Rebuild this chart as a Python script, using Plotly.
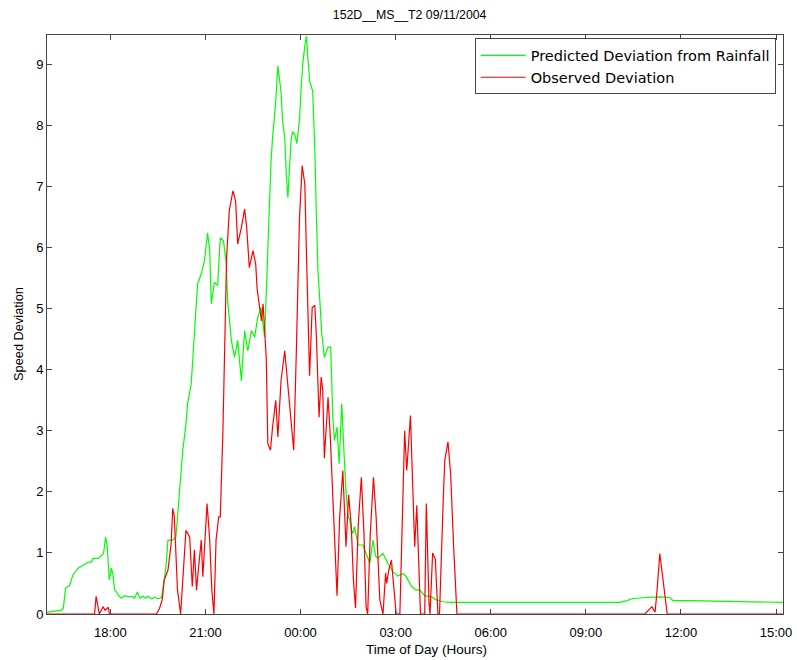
import plotly.graph_objects as go

# ---- data (clock time, deviation) ----
green_times = [
    "16:00", "16:14", "16:27", "16:31", "16:35", "16:43", "16:49", "16:59", "17:08", "17:18",
    "17:24", "17:27", "17:37", "17:43", "17:47", "17:51", "17:54", "17:58", "18:02", "18:05",
    "18:08", "18:11", "18:15", "18:21", "18:27", "18:34", "18:40", "18:46", "18:51", "18:56",
    "19:02", "19:07", "19:11", "19:18", "19:24", "19:30", "19:37", "19:40", "19:45", "19:49",
    "19:58", "20:04", "20:11", "20:17", "20:23", "20:26", "20:33", "20:39", "20:42", "20:45",
    "20:52", "20:58", "21:04", "21:08", "21:11", "21:17", "21:23", "21:28", "21:34", "21:39",
    "21:42", "21:49", "21:55", "22:01", "22:08", "22:14", "22:20", "22:27", "22:33", "22:39",
    "22:45", "22:52", "22:58", "23:01", "23:04", "23:07", "23:13", "23:17", "23:20", "23:23",
    "23:26", "23:30", "23:33", "23:36", "23:39", "23:42", "23:45", "23:49", "23:53", "23:58",
    "00:01", "00:04", "00:08", "00:11", "00:14", "00:17", "00:23", "00:27", "00:30", "00:33",
    "00:36", "00:40", "00:45", "00:52", "00:57", "01:01", "01:04", "01:09", "01:13", "01:18",
    "01:22", "01:26", "01:30", "01:33", "01:36", "01:39", "01:42", "01:46", "01:49", "01:58",
    "02:04", "02:11", "02:17", "02:22", "02:26", "02:36", "02:45", "02:55", "03:04", "03:14",
    "03:20", "03:30", "03:39", "03:45", "03:55", "04:08", "04:17", "04:30", "04:42", "06:17",
    "07:52", "09:26", "10:04", "10:18", "10:27", "10:52", "11:20", "11:39", "11:45", "12:17",
    "13:14", "14:30", "15:13",
]
green_values = [
    0.03, 0.04, 0.06, 0.10, 0.42, 0.47, 0.64, 0.75, 0.80, 0.85,
    0.85, 0.91, 0.91, 0.96, 0.99, 1.26, 1.10, 0.56, 0.75, 0.64,
    0.39, 0.37, 0.31, 0.26, 0.30, 0.28, 0.29, 0.26, 0.36, 0.26,
    0.29, 0.26, 0.29, 0.25, 0.27, 0.25, 0.27, 0.45, 0.75, 1.21,
    1.21, 1.26, 2.03, 2.68, 3.10, 3.44, 3.77, 4.59, 5.02, 5.40,
    5.57, 5.78, 6.24, 5.95, 5.08, 5.43, 5.38, 6.16, 6.11, 5.78,
    5.13, 4.48, 4.20, 4.48, 3.82, 4.64, 4.31, 4.64, 4.53, 4.86,
    5.02, 4.53, 5.95, 6.80, 7.40, 7.80, 8.40, 8.97, 8.75, 8.55,
    8.07, 7.80, 7.20, 6.82, 7.30, 7.75, 7.90, 7.85, 7.70, 8.10,
    8.60, 9.00, 9.30, 9.46, 9.10, 8.73, 8.56, 7.60, 6.50, 5.60,
    5.20, 4.60, 4.20, 4.37, 4.37, 3.22, 2.84, 3.06, 2.46, 3.44,
    2.68, 2.00, 1.59, 1.55, 1.37, 1.32, 1.43, 1.26, 1.13, 1.13,
    0.99, 0.83, 1.21, 0.95, 0.91, 0.99, 0.83, 0.69, 0.62, 0.66,
    0.61, 0.45, 0.39, 0.40, 0.30, 0.28, 0.23, 0.20, 0.19, 0.19,
    0.19, 0.19, 0.19, 0.22, 0.25, 0.27, 0.28, 0.27, 0.22, 0.22,
    0.21, 0.20, 0.19,
]

red_times = [
    "16:00", "17:30", "17:33", "17:39", "17:42", "17:46", "17:50", "17:56", "17:58", "19:27",
    "19:33", "19:38", "19:42", "19:49", "19:55", "19:58", "20:01", "20:04", "20:07", "20:13",
    "20:17", "20:23", "20:30", "20:35", "20:39", "20:43", "20:47", "20:52", "20:55", "20:59",
    "21:03", "21:08", "21:12", "21:16", "21:20", "21:25", "21:28", "21:33", "21:36", "21:40",
    "21:45", "21:52", "21:57", "22:01", "22:08", "22:14", "22:18", "22:23", "22:30", "22:35",
    "22:38", "22:42", "22:46", "22:49", "22:55", "22:58", "23:03", "23:07", "23:13", "23:17",
    "23:23", "23:30", "23:36", "23:42", "23:47", "23:52", "23:58", "00:03", "00:08", "00:11",
    "00:14", "00:17", "00:22", "00:27", "00:30", "00:35", "00:39", "00:42", "00:45", "00:52",
    "00:56", "01:01", "01:06", "01:09", "01:14", "01:20", "01:26", "01:31", "01:36", "01:40",
    "01:44", "01:49", "01:55", "02:00", "02:04", "02:07", "02:12", "02:18", "02:23", "02:30",
    "02:36", "02:41", "02:43", "02:47", "02:52", "02:56", "03:01", "03:08", "03:13", "03:17",
    "03:21", "03:28", "03:33", "03:36", "03:40", "03:44", "03:47", "03:55", "03:58", "04:03",
    "04:05", "04:10", "04:15", "04:20", "04:23", "04:30", "04:33", "04:39", "04:44", "04:50",
    "04:56", "10:52", "10:57", "11:05", "11:11", "11:14", "11:20", "11:26", "11:34", "15:13",
]
red_values = [
    0.00, 0.00, 0.29, 0.00, 0.05, 0.12, 0.06, 0.11, 0.00, 0.00,
    0.09, 0.23, 0.56, 0.72, 1.15, 1.73, 1.59, 0.94, 0.39, 0.00,
    0.56, 1.37, 1.26, 0.45, 1.05, 0.39, 0.77, 1.21, 0.61, 1.21,
    1.81, 1.21, 0.39, 0.00, 1.21, 1.59, 1.59, 3.00, 4.31, 5.84,
    6.60, 6.93, 6.76, 6.06, 6.33, 6.63, 6.33, 5.67, 5.95, 5.73,
    5.30, 5.08, 4.80, 5.08, 4.20, 2.79, 2.68, 3.06, 3.50, 2.90,
    3.82, 4.31, 3.77, 3.22, 2.68, 4.31, 6.49, 7.34, 7.04, 5.95,
    4.86, 3.90, 5.02, 5.05, 4.53, 3.22, 3.88, 3.66, 2.55, 3.55,
    2.95, 2.00, 1.05, 0.30, 1.59, 2.35, 1.10, 1.95, 1.43, 0.56,
    0.10, 1.43, 2.24, 1.32, 0.12, 0.00, 1.32, 2.24, 1.59, 0.23,
    0.00, 0.67, 0.50, 0.72, 0.88, 0.50, 0.00, 0.00, 1.86, 3.00,
    2.35, 3.25, 1.90, 1.10, 1.78, 0.77, 0.00, 0.00, 1.81, 0.20,
    0.00, 1.00, 0.90, 0.00, 0.00, 1.86, 2.52, 2.82, 2.30, 1.05,
    0.00, 0.00, 0.05, 0.12, 0.03, 0.30, 0.99, 0.60, 0.00, 0.00,
]

tick_hours = [18, 21, 24, 27, 30, 33, 36, 39]
tick_labels = ["18:00", "21:00", "00:00", "03:00", "06:00", "09:00", "12:00", "15:00"]
y_ticks = [0, 1, 2, 3, 4, 5, 6, 7, 8, 9]


def to_hours(t):
    hh, mm = t.split(":")
    h = int(hh) + int(mm) / 60.0
    if h < 16:
        h += 24
    return h


gx = [to_hours(t) for t in green_times]
rx = [to_hours(t) for t in red_times]

FONT = "Liberation Sans, Arial, Helvetica, sans-serif"
AXC = "#444444"

fig = go.Figure()
fig.add_trace(go.Scatter(
    x=gx, y=green_values, mode="lines", name="Predicted Deviation from Rainfall",
    line=dict(color="rgb(0,255,0)", width=1.2),
))
fig.add_trace(go.Scatter(
    x=rx, y=red_values, mode="lines", name="Observed Deviation",
    line=dict(color="rgb(255,0,0)", width=1.2),
))

fig.update_layout(
    width=797, height=660,
    margin=dict(l=47, r=14, t=35, b=46, autoexpand=False),
    paper_bgcolor="white", plot_bgcolor="white",
    font=dict(family=FONT, size=13, color="black"),
    title=dict(text="152D__MS__T2 09/11/2004", x=0.514, xanchor="center",
               y=1 - 15 / 660, yanchor="middle", yref="container",
               font=dict(size=12.3, color="black")),
    showlegend=True,
    legend=dict(x=0.99, xanchor="right", y=0.994, yanchor="top",
                bgcolor="white", bordercolor=AXC, borderwidth=1,
                itemwidth=45,
                font=dict(family="DejaVu Sans, Liberation Sans, sans-serif",
                          size=14.5, color="black"), tracegroupgap=0),
    xaxis=dict(range=[16.0, 39.22], tickvals=tick_hours, ticktext=tick_labels,
               showline=True, linecolor=AXC, linewidth=1, mirror="ticks",
               ticks="inside", ticklen=5, tickcolor=AXC, automargin=False,
               ticklabelstandoff=6,
               showgrid=False, zeroline=False,
               tickfont=dict(size=13, color="black")),
    yaxis=dict(range=[0, 9.48], tickvals=y_ticks,
               showline=True, linecolor=AXC, linewidth=1, mirror="ticks",
               ticks="inside", ticklen=5, tickcolor=AXC, automargin=False,
               showgrid=False, zeroline=False,
               tickfont=dict(size=13, color="black")),
    annotations=[
        dict(text="Time of Day (Hours)", xref="paper", yref="paper",
             x=0.516, y=-(649 - 614) / 579, xanchor="center", yanchor="middle",
             showarrow=False, font=dict(size=13.5, color="black")),
        dict(text="Speed Deviation", xref="paper", yref="paper",
             x=-(47 - 18) / 736, y=(614 - 334) / 579, xanchor="center", yanchor="middle",
             textangle=-90, showarrow=False, font=dict(size=12.8, color="black")),
    ],
)

fig.write_html("out.html")
